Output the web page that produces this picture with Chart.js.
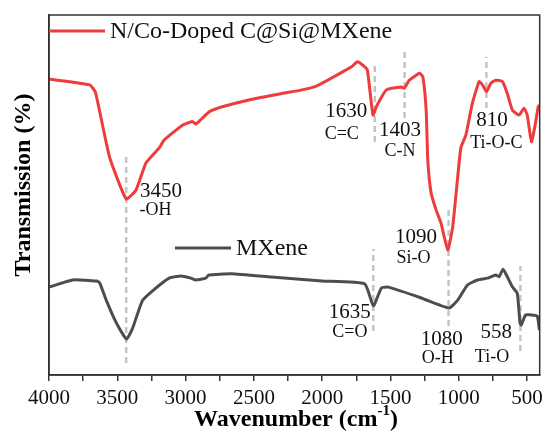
<!DOCTYPE html>
<html>
<head>
<meta charset="utf-8">
<script src="https://cdn.jsdelivr.net/npm/chart.js@4"></script>
<style>
  html, body { margin: 0; padding: 0; background: #fff; }
  #wrap { width: 548px; height: 432px; }
</style>
</head>
<body>
<div id="wrap"><canvas id="ftir"></canvas></div>
<script>
// wavenumber (cm-1) / transmission
const wnRed = [4000, 3702, 3660, 3557, 3435, 3363, 3290, 3193, 3156, 3023, 2950, 2925, 2889, 2828, 2731, 2537, 2295, 2173, 2052, 1979, 1870, 1785, 1742, 1688, 1669, 1628, 1603, 1530, 1421, 1399, 1362, 1287, 1263, 1239, 1227, 1203, 1166, 1130, 1081, 1045, 1008, 985, 948, 900, 851, 827, 797, 766, 730, 681, 645, 608, 559, 523, 499, 468, 439, 419, 410];
const tRed = [82.2, 80.6, 78.5, 60.6, 48.9, 51.4, 58.9, 63.1, 65.3, 69.4, 70.4, 69.7, 70.9, 73.1, 74.5, 76.4, 78.2, 79.0, 80.1, 81.5, 83.8, 85.6, 87.0, 85.6, 84.7, 72.2, 74.6, 79.2, 80.0, 79.7, 81.9, 83.8, 82.8, 73.6, 59.7, 50.6, 45.8, 42.2, 34.7, 41.1, 55.0, 63.1, 66.7, 75.6, 81.5, 80.6, 78.7, 81.0, 81.9, 81.5, 78.2, 73.6, 72.2, 74.1, 72.2, 64.8, 69.9, 74.5, 75.0];

const wnMx = [4000, 3826, 3651, 3629, 3579, 3506, 3433, 3390, 3317, 3244, 3121, 3034, 2961, 2925, 2852, 2830, 2663, 2372, 2002, 1689, 1626, 1566, 1515, 1275, 1072, 1008, 936, 863, 790, 730, 705, 676, 645, 608, 572, 552, 543, 511, 475, 426, 410];
const tMx = [24.4, 26.4, 26.1, 25.6, 20.6, 14.4, 10.0, 12.8, 20.6, 23.3, 26.9, 27.5, 26.9, 26.4, 26.9, 27.8, 28.1, 27.2, 26.1, 25.3, 19.2, 24.2, 24.4, 21.4, 18.6, 20.8, 25.0, 26.4, 26.9, 27.8, 27.3, 29.4, 27.3, 24.5, 22.7, 14.4, 13.9, 16.7, 16.7, 16.4, 12.5];

const xTicks = [4000, 3750, 3500, 3250, 3000, 2750, 2500, 2250, 2000, 1750, 1500, 1250, 1000, 750, 500];

// dashed marker lines: wavenumber, from, to
const markWn = [3435, 1615, 1397, 798, 1075, 1626, 549];
const markLo = [3.3, 64.7, 71.4, 74.2, 13.6, 12.2, 6.7];
const markHi = [61.4, 86.4, 89.7, 88.3, 45.8, 35.0, 30.3];

// peak labels: text, wavenumber, transmission (centre of text)
const peakText = ['3450', '-OH', '1630', 'C=C', '1403', 'C-N', '810', 'Ti-O-C', '1090', 'Si-O', '1635', 'C=O', '1080', 'O-H', '558', 'Ti-O'];
const peakWn = [3181, 3221, 1824, 1857, 1431, 1431, 757, 725, 1314, 1332, 1798, 1798, 1125, 1154, 725, 757];
const peakT = [51.0, 45.7, 73.2, 66.9, 67.9, 62.1, 70.8, 64.3, 38.2, 32.4, 17.4, 11.8, 9.9, 4.6, 11.8, 4.9];

const RED = '#ee3b3b';
const GREY = '#4d4d4d';
const DASH = '#c4c4c4';
const SERIF = '"Liberation Serif", "Times New Roman", serif';

const datasets = [
  {
    label: 'N/Co-Doped C@Si@MXene',
    data: wnRed.map((w, i) => ({ x: w, y: tRed[i] })),
    borderColor: RED, borderWidth: 3, pointRadius: 0, tension: 0.15, order: 0
  },
  {
    label: 'MXene',
    data: wnMx.map((w, i) => ({ x: w, y: tMx[i] })),
    borderColor: GREY, borderWidth: 3, pointRadius: 0, tension: 0.15, order: 0
  }
];
markWn.forEach((w, i) => {
  datasets.push({
    label: 'mark' + i,
    data: [{ x: w, y: markLo[i] }, { x: w, y: markHi[i] }],
    borderColor: DASH, borderWidth: 2.5, borderDash: [6, 4],
    pointRadius: 0, order: 1
  });
});

const decor = {
  id: 'decor',
  afterDatasetsDraw(chart) {
    const { ctx, chartArea: a, scales } = chart;
    const xs = scales.x, ys = scales.y;
    ctx.save();
    // frame
    ctx.strokeStyle = '#333';
    ctx.lineWidth = 1.5;
    ctx.strokeRect(a.left, a.top, a.right - a.left, a.bottom - a.top);

    // peak labels
    ctx.fillStyle = '#111';
    ctx.textAlign = 'center';
    ctx.textBaseline = 'middle';
    peakText.forEach((t, i) => {
      ctx.font = (/^\d+$/.test(t) ? '21px ' : '18px ') + SERIF;
      ctx.fillText(t, xs.getPixelForValue(peakWn[i]), ys.getPixelForValue(peakT[i]));
    });

    // legends
    ctx.font = '24px ' + SERIF;
    ctx.textAlign = 'left';
    ctx.lineWidth = 3;
    ctx.strokeStyle = RED;
    ctx.beginPath(); ctx.moveTo(a.left, 31); ctx.lineTo(105, 31); ctx.stroke();
    ctx.fillText('N/Co-Doped C@Si@MXene', 110, 32);
    ctx.strokeStyle = GREY;
    ctx.beginPath(); ctx.moveTo(175, 248); ctx.lineTo(231, 248); ctx.stroke();
    ctx.fillText('MXene', 236, 249);

    // axis titles
    ctx.fillStyle = '#000';
    ctx.font = 'bold 24px ' + SERIF;
    ctx.save();
    ctx.translate(24, 185);
    ctx.rotate(-Math.PI / 2);
    ctx.textAlign = 'center';
    ctx.fillText('Transmission (%)', 0, 0);
    ctx.restore();

    const main = 'Wavenumber (cm', sup = '-1', tail = ')';
    ctx.font = 'bold 24px ' + SERIF;
    const w1 = ctx.measureText(main).width, w3 = ctx.measureText(tail).width;
    ctx.font = 'bold 15px ' + SERIF;
    const w2 = ctx.measureText(sup).width;
    let x0 = 296 - (w1 + w2 + w3) / 2;
    ctx.textAlign = 'left';
    ctx.font = 'bold 24px ' + SERIF;
    ctx.fillText(main, x0, 420);
    ctx.font = 'bold 15px ' + SERIF;
    ctx.fillText(sup, x0 + w1, 411);
    ctx.font = 'bold 24px ' + SERIF;
    ctx.fillText(tail, x0 + w1 + w2, 420);
    ctx.restore();
  }
};

new Chart(document.getElementById('ftir'), {
  type: 'line',
  data: { datasets },
  options: {
    responsive: true,
    maintainAspectRatio: false,
    animation: false,
    layout: { padding: { top: 15, right: 5.5, left: 0, bottom: 0 } },
    plugins: { legend: { display: false }, tooltip: { enabled: false } },
    scales: {
      x: {
        type: 'linear',
        reverse: true,
        min: 408,
        max: 4000,
        afterBuildTicks: s => { s.ticks = xTicks.map(v => ({ value: v })); },
        afterFit: s => { s.height = 57; },
        grid: { drawOnChartArea: false, drawTicks: true, tickLength: 6, color: '#333', lineWidth: 1.5 },
        border: { display: true, color: '#333', width: 1.5 },
        ticks: {
          padding: 5,
          color: '#111',
          font: { family: SERIF, size: 21 },
          maxRotation: 0,
          autoSkip: false,
          callback: v => (v % 500 === 0 ? String(v) : '')
        }
      },
      y: {
        min: 0,
        max: 100,
        afterFit: s => { s.width = 49; },
        grid: { display: false },
        border: { display: true, color: '#333', width: 1.5 },
        ticks: { display: false }
      }
    }
  },
  plugins: [decor]
});
</script>
</body>
</html>
